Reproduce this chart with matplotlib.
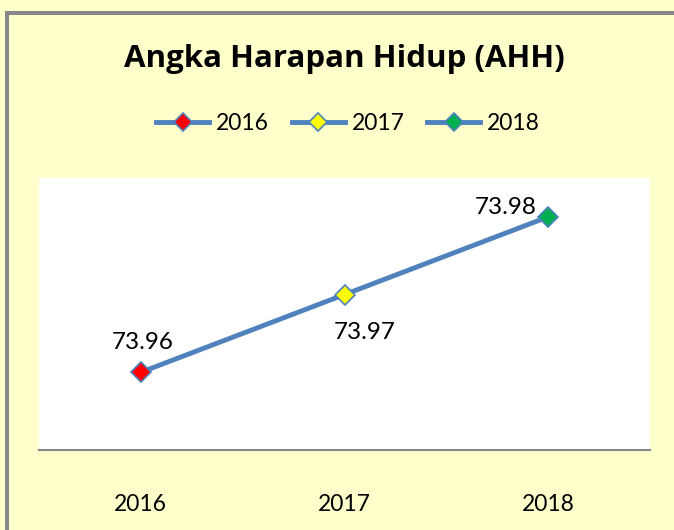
import matplotlib
matplotlib.use("Agg")
import matplotlib.pyplot as plt
from matplotlib.lines import Line2D
from matplotlib.patches import Rectangle

categories = ["2016", "2017", "2018"]
values = [73.96, 73.97, 73.98]
marker_colors = ["#FF0000", "#FFFF00", "#00B050"]
title = "Angka Harapan Hidup (AHH)"

plt.rcParams['font.family'] = ['Lato', 'DejaVu Sans']

W, H = 674, 530
fig = plt.figure(figsize=(W / 100, H / 100), dpi=100)
fig.patch.set_facecolor("#FFFFCC")

# gray frame (left and top visible)
fig.add_artist(Rectangle((5 / W, -0.1), 4 / W, 1.1 - 11 / H, transform=fig.transFigure,
                         facecolor="#878787", edgecolor="none"))
fig.add_artist(Rectangle((5 / W, 1 - 15 / H), 1.0, 4 / H, transform=fig.transFigure,
                         facecolor="#878787", edgecolor="none"))

ax = fig.add_axes([39 / W, (H - 450) / H, (650 - 39) / W, (450 - 178) / H])
ax.set_facecolor("white")
x = list(range(len(categories)))
line_color = "#4F81BD"
ax.plot(x, values, color=line_color, lw=3.5, zorder=2)
for xi, v, c in zip(x, values, marker_colors):
    ax.plot([xi], [v], marker="D", markersize=10.5, markerfacecolor=c,
            markeredgecolor=line_color, markeredgewidth=1.2, zorder=3)

ax.set_xlim(-0.5, 2.5)
ax.set_ylim(73.95, 73.985)
ax.set_yticks([])
ax.set_xticks(x)
ax.set_xticklabels(categories, fontsize=16.5)
ax.tick_params(axis="x", length=0, pad=32)
for s in ["top", "left", "right"]:
    ax.spines[s].set_visible(False)
ax.spines["bottom"].set_color("#868686")
ax.spines["bottom"].set_linewidth(1.5)

# data labels
offsets = [(2, 30), (20, -38), (-42, 9)]
for xi, v, (dx, dy) in zip(x, values, offsets):
    ax.annotate(f"{v:.2f}", (xi, v), xytext=(dx * 0.72, dy * 0.72), textcoords="offset points",
                ha="center", va="center", fontsize=17.5)

fig.text(344 / W, 1 - 59 / H, title, ha="center", va="center", fontsize=22.5, fontweight="bold",
         family=["Open Sans", "DejaVu Sans"])

handles = [Line2D([0], [0], color=line_color, lw=3.5, marker="D", markersize=9.5,
                  markerfacecolor=c, markeredgecolor=line_color, markeredgewidth=1.2)
           for c in marker_colors]
fig.legend(handles, categories, loc="center", bbox_to_anchor=(348 / W, 1 - 124 / H), ncol=3,
           frameon=False, fontsize=16.5, handlelength=2.3, handletextpad=0.3, columnspacing=1.0)

fig.savefig("out.png", dpi=100, facecolor=fig.get_facecolor())
